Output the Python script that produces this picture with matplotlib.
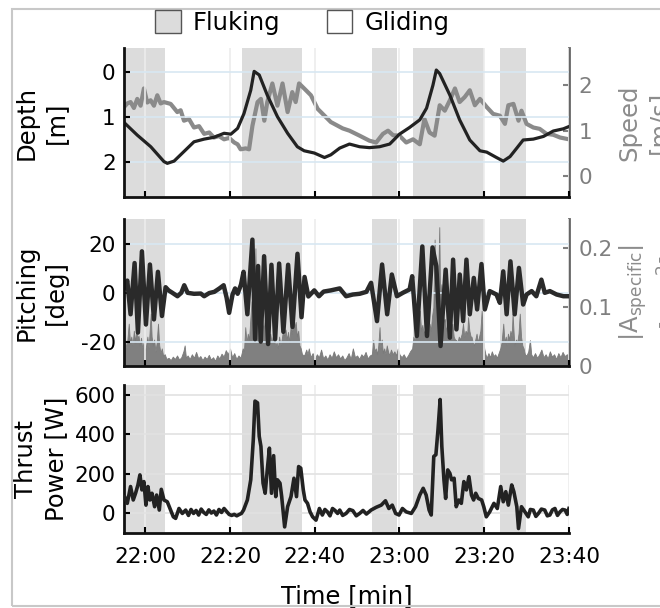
import numpy as np
import matplotlib
matplotlib.use('Agg')
import matplotlib.pyplot as plt
from matplotlib.patches import Patch, Rectangle

plt.rcParams['font.family'] = ['DejaVu Sans']
plt.rcParams['axes.unicode_minus'] = False

# Tiempo en minutos desde las 22:00
fluking = [(-5.0, 4.6), (22.9, 37.1), (53.6, 59.5), (63.2, 80.0), (83.8, 89.8)]
xticks = [0, 20, 40, 60, 80, 100]
xticklabels = ['22:00', '22:20', '22:40', '23:00', '23:20', '23:40']

depth_t = [-5.0, -1.9, 1.3, 4.4, 5.2, 6.8, 9.1, 11.5, 13.9, 16.2,
           18.6, 20.2, 21.8, 23.3, 24.9, 25.7, 26.9, 28.8, 31.2, 33.6,
           35.9, 37.5, 39.9, 42.3, 43.8, 45.9, 48.2, 50.6, 52.9, 55.3,
           57.7, 60.0, 62.4, 64.8, 66.4, 67.9, 68.7, 69.5, 71.9, 74.2,
           76.6, 79.0, 80.6, 82.9, 84.5, 86.1, 87.7, 89.2, 91.6, 94.0,
           96.3, 98.7, 100.0]
depth_m = [1.13, 1.41, 1.67, 2.0, 2.04, 1.99, 1.78, 1.56, 1.50, 1.46,
           1.37, 1.39, 1.26, 0.93, 0.41, -0.01, 0.07, 0.52, 1.0, 1.37,
           1.67, 1.76, 1.81, 1.91, 1.85, 1.70, 1.61, 1.67, 1.69, 1.67,
           1.61, 1.39, 1.24, 1.07, 0.81, 0.30, -0.04, 0.04, 0.52, 1.07,
           1.52, 1.76, 1.79, 1.91, 1.99, 1.89, 1.70, 1.52, 1.50, 1.44,
           1.32, 1.27, 1.22]

speed_t = [-5.0, -4.25, -3.47, -2.68, -1.89, -1.10, -0.32, 0.47, 1.26, 2.05,
           2.84, 3.63, 4.41, 5.99, 7.56, 8.35, 9.14, 10.3, 11.5, 12.7,
           13.9, 15.1, 16.2, 17.4, 18.6, 19.8, 21.0, 21.8, 22.5, 23.7,
           24.5, 25.3, 26.5, 27.3, 28.1, 28.8, 30.0, 31.2, 32.4, 33.6,
           34.7, 35.5, 36.3, 37.5, 39.1, 40.7, 42.3, 43.8, 45.4, 46.6,
           48.2, 50.6, 52.9, 54.5, 56.1, 57.3, 58.5, 60.0, 61.6, 63.2,
           64.8, 65.9, 67.1, 68.3, 69.5, 70.7, 71.9, 73.1, 74.2, 75.4,
           76.6, 77.8, 79.0, 80.6, 82.1, 83.7, 84.9, 85.7, 86.9, 88.1,
           88.8, 90.0, 91.6, 93.1, 94.7, 96.3, 97.9, 100.0]
speed_v = [1.52, 1.60, 1.63, 1.50, 1.70, 1.55, 1.93, 1.62, 1.67, 1.55,
           1.78, 1.60, 1.63, 1.59, 1.41, 1.45, 1.22, 1.26, 1.07, 1.10,
           0.93, 0.96, 0.85, 0.88, 0.81, 0.84, 0.74, 0.70, 0.59, 0.61,
           0.59, 1.11, 1.63, 1.70, 1.22, 1.63, 2.04, 1.55, 2.04, 1.41,
           1.85, 1.63, 2.04, 1.93, 1.78, 1.48, 1.33, 1.19, 1.11, 1.05,
           1.0, 0.89, 0.78, 0.74, 0.93, 1.0, 0.90, 0.89, 0.74, 0.81,
           0.70, 1.26, 0.96, 0.89, 1.56, 1.44, 1.67, 1.93, 1.63, 1.74,
           1.89, 1.56, 1.70, 1.52, 1.37, 1.33, 1.15, 1.56, 1.59, 1.22,
           1.44, 1.15, 1.07, 1.04, 0.93, 0.91, 0.85, 0.81]

pitch_t = [-5.0, -4.25, -3.47, -2.52, -1.73, -0.79, 0.16, 1.10, 2.05, 2.99,
           3.94, 4.80, 5.5, 6.4, 7.6, 8.5, 9.2, 10.0, 11.5, 13.1,
           13.9, 15.1, 16.3, 17.5, 18.5, 19.2, 19.8, 20.6, 21.2, 21.8,
           22.6, 23.2, 24.1, 25.29, 25.92, 26.63, 27.26, 28.05, 28.99, 29.78,
           30.65, 31.6, 32.6, 33.72, 34.75, 35.93, 36.88, 37.6, 38.5, 39.9,
           41.0, 42.1, 43.8, 45.9, 47.4, 49.0, 50.6, 52.2, 53.3, 54.7,
           55.9, 57.1, 58.2, 59.4, 60.8, 62.4, 63.0, 64.1, 65.4, 66.5,
           67.8, 68.7, 69.7, 70.9, 71.9, 72.66, 73.45, 74.24, 75.03, 75.81,
           76.6, 77.55, 78.33, 79.36, 80.15, 81.3, 82.9, 83.7, 84.5, 85.3,
           86.2, 87.2, 88.2, 89.2, 90.0, 91.2, 92.3, 93.5, 94.3, 95.5,
           97.1, 98.7, 100.0]
pitch_v = [2.0, 5.0, -8.8, 12.2, -16.3, 17.0, -13.0, 11.6, -10.9, 8.6,
           -9.5, 2.3, 1.0, 0.0, -1.4, 0.0, 3.1, 0.0, -0.4, -0.3,
           -1.4, -0.1, 0.4, 1.8, 3.1, -2.0, -8.2, -0.7, 1.8, -0.4,
           3.4, 8.6, -8.8, 21.8, -19.0, 11.0, -20.0, 15.0, -21.0, 11.5,
           -19.0, 12.0, -16.0, 11.5, -14.0, 16.0, -10.0, 6.5, -1.5, 1.0,
           -1.4, 0.5, 1.0, 1.8, -1.4, -0.7, -0.4, 0.4, 4.1, -11.6,
           11.6, -8.8, 7.5, -1.4, 0.0, 1.4, 6.8, -17.7, 19.0, -17.7,
           18.6, 10.9, -21.8, 9.5, -18.4, 13.6, -15.0, 7.5, -11.6, 13.6,
           -8.8, 6.1, -6.8, 11.8, -6.8, 0.7, -0.7, -4.1, 8.8, -8.8,
           12.9, -8.8, 10.2, -4.8, -0.7, 0.7, -1.4, 5.4, 0.0, 0.7,
           -0.7, -1.4, -1.4]

accel_t = [-5.0, -4.7, -4.4, -4.1, -3.9, -3.6, -3.3, -3.0, -2.7, -2.4, -2.1, -1.9, -1.6, -1.3, -1.0, -0.7, -0.4, -0.1,
           0.2, 0.5, 0.8, 1.1, 1.3, 1.5, 1.8, 2.1, 2.4, 2.7, 3.0, 3.3, 3.6, 3.9, 4.2, 4.6, 5.0,
           5.5, 6.0, 6.5, 7.0, 7.5, 8.0, 8.5, 9.0, 9.3, 9.6, 10.0, 10.5, 11.0, 11.5, 12.0, 12.5, 13.0, 13.5,
           14.0, 14.5, 15.0, 15.5, 16.0, 16.5, 17.0, 17.5, 18.0, 18.5, 19.0, 19.5, 20.0, 20.5, 21.0, 21.5, 22.0, 22.5,
           23.0, 23.3, 23.6, 23.9, 24.2, 24.5, 24.8, 25.1, 25.3, 25.6, 25.8, 26.0, 26.2, 26.5, 26.8, 27.1, 27.4,
           27.7, 28.0, 28.3, 28.6, 28.9, 29.2, 29.5, 29.8, 30.1, 30.4, 30.7, 31.0, 31.3, 31.6, 31.9, 32.2,
           32.5, 32.8, 33.1, 33.4, 33.7, 34.0, 34.3, 34.6, 34.9, 35.2, 35.5, 35.8, 36.1, 36.4, 36.7, 37.0,
           37.5, 38.0, 38.3, 38.6, 39.0, 39.5, 40.0, 40.5, 41.0, 41.5, 42.0, 42.5, 43.0, 43.5, 44.0, 44.5, 45.0,
           45.5, 46.0, 46.5, 47.0, 47.5, 48.0, 48.5, 49.0, 49.5, 50.0, 50.5, 51.0, 51.5, 52.0, 52.5, 53.0,
           53.5, 53.8, 54.1, 54.4, 54.7, 55.0, 55.3, 55.5, 55.8, 56.1, 56.4, 56.7, 57.0,
           57.3, 57.6, 58.0, 58.4, 58.8, 59.2, 59.6, 60.0, 60.5, 61.0, 61.5, 62.0, 62.5,
           63.0, 63.3, 63.6, 63.9, 64.2, 64.5, 64.8, 65.1, 65.4, 65.7, 66.0, 66.3, 66.6, 66.9, 67.1,
           67.4, 67.7, 68.0, 68.3, 68.5, 68.8, 69.1, 69.4, 69.6, 69.9, 70.2, 70.5, 70.7, 71.0, 71.3,
           71.5, 71.8, 72.1, 72.5, 72.8, 73.1, 73.4, 73.7, 74.0, 74.3, 74.7, 75.0, 75.3, 75.6, 76.0,
           76.2, 76.5, 76.8, 77.0, 77.3, 77.6, 77.9, 78.2, 78.5, 78.8, 79.1, 79.4, 79.7, 80.0, 80.3,
           80.6, 81.0, 81.4, 81.8, 82.2, 82.6, 83.0, 83.4,
           83.8, 84.1, 84.5, 84.8, 85.1, 85.3, 85.6, 85.9, 86.2, 86.5, 86.7, 87.0, 87.2,
           87.5, 87.8, 88.1, 88.4, 88.7, 89.0, 89.3, 89.6, 90.0, 90.4, 90.8, 91.1,
           91.5, 92.0, 92.5, 93.0, 93.5, 94.0, 94.5, 95.0, 95.5,
           96.0, 96.5, 97.0, 97.5, 98.0, 98.5, 99.0, 99.5, 100.0]
accel_v = [.020, .040, .030, .055, .072, .040, .050, .035, .060, .040, .066, .045, .052, .035, .048, .030, .040, .025,
           .035, .050, .030, .068, .089, .050, .035, .045, .025, .040, .072, .035, .022, .030, .018, .020, .012,
           .014, .010, .016, .012, .018, .011, .015, .025, .035, .014, .018, .012, .020, .014, .024, .013, .017, .010,
           .016, .012, .019, .011, .015, .009, .018, .013, .021, .016, .027, .020, .030, .015, .022, .012, .018, .014,
           .030, .025, .066, .040, .055, .045, .080, .110, .070, .128, .090, .200, .080, .070, .090, .060, .100,
           .070, .065, .085, .060, .070, .050, .055, .040, .050, .045, .035, .040, .030, .050, .035, .045,
           .060, .050, .062, .045, .058, .040, .066, .055, .083, .065, .075, .050, .060, .035, .030, .020,
           .018, .028, .020, .030, .015, .022, .012, .020, .015, .028, .013, .018, .011, .020, .014, .025, .015,
           .020, .013, .018, .010, .015, .022, .012, .030, .015, .018, .012, .020, .016, .024, .013, .018,
           .020, .044, .025, .030, .020, .035, .066, .030, .045, .022, .030, .020, .035,
           .025, .018, .028, .020, .025, .018, .030, .020, .015, .020, .013, .018, .025,
           .030, .050, .040, .060, .055, .075, .094, .060, .070, .055, .062, .050, .068, .055, .072,
           .060, .085, .100, .215, .120, .100, .130, .236, .110, .139, .090, .075, .080, .060, .070,
           .089, .060, .065, .072, .050, .045, .044, .040, .050, .045, .055, .072, .050, .060, .055,
           .083, .060, .050, .050, .040, .035, .045, .055, .040, .050, .060, .094, .060, .030, .020,
           .014, .022, .015, .025, .017, .020, .014, .022,
           .030, .040, .072, .040, .050, .035, .055, .045, .060, .050, .089, .050, .035,
           .045, .040, .055, .089, .050, .035, .030, .020, .018, .025, .044, .020,
           .015, .022, .014, .020, .028, .015, .020, .013, .025,
           .016, .020, .012, .022, .015, .024, .017, .020, .018]

power_t = [-4.88, -4.25, -3.47, -2.84, -2.29, -1.73, -1.26, -0.79, -0.32, 0.16,
           0.63, 1.10, 1.58, 2.21, 2.68, 3.31, 3.78, 4.41, 5.2, 5.83,
           6.62, 7.17, 7.96, 8.75, 9.54, 10.2, 10.8, 11.4, 12.0, 12.6,
           13.2, 13.8, 14.4, 15.0, 15.6, 16.2, 16.8, 17.4, 18.0, 18.6,
           19.2, 19.8, 20.4, 21.0, 21.6, 22.2, 22.7, 23.2, 24.1, 24.9,
           25.5, 25.9, 26.5, 26.9, 27.3, 27.8, 28.3, 28.8, 29.3, 29.8,
           30.3, 30.8, 31.2, 31.8, 32.2, 32.9, 33.6, 34.4, 35.1, 35.7,
           36.2, 36.7, 37.3, 37.7, 38.3, 38.9, 39.5, 40.3, 41.1, 41.8,
           42.4, 43.0, 43.6, 44.2, 44.8, 45.4, 45.9, 46.6, 47.4, 48.2,
           49.0, 49.8, 50.6, 51.4, 52.2, 53.3, 54.5, 55.7, 56.7, 57.5,
           58.3, 59.1, 59.9, 60.7, 61.6, 62.8, 63.8, 64.8, 65.6, 66.3,
           67.0, 67.5, 68.1, 68.6, 69.1, 69.6, 70.0, 70.5, 70.9, 71.4,
           71.9, 72.3, 72.9, 73.4, 74.0, 74.6, 75.2, 75.8, 76.4, 77.0,
           77.5, 78.0, 78.6, 79.4, 79.9, 80.5, 81.3, 82.3, 83.1, 83.9,
           84.5, 85.1, 85.7, 86.5, 87.0, 87.7, 88.1, 88.8, 89.6, 90.4,
           90.9, 91.6, 92.2, 92.8, 93.5, 94.3, 94.9, 95.5, 96.1, 96.7,
           97.3, 97.9, 98.5, 99.1, 99.6, 100.0]
power_v = [85, 51, 136, 68, 102, 144, 195, 119, 161, 42,
           136, 68, 102, 34, 93, 17, 122, 68, 59, 25,
           -17, -25, 25, 0, 17, -10, 20, 0, 15, -8,
           22, 5, -5, 18, 2, 12, -8, 20, 5, 25,
           10, -5, -10, -5, -12, -5, 0, 17, 68, 170,
           373, 568, 559, 390, 339, 153, 102, 220, 330, 102,
           292, 85, 170, 153, 85, -68, 34, 85, 178, 85,
           237, 229, 119, 68, 51, 8, -17, -34, 25, -8,
           20, 8, -12, 25, 15, 0, 17, -10, 0, 20,
           14, -12, 0, 15, -3, 17, 31, 42, 64, 25,
           42, 0, -8, 25, 8, 0, 34, 93, 127, 93,
           17, -8, 288, 297, 424, 576, 339, 170, 76, 220,
           203, 170, 178, 34, 68, 51, 161, 119, 186, 93,
           68, 102, 76, 68, 34, -17, 8, 51, 25, 136,
           59, 110, 42, 144, 110, 34, -76, 34, 8, -17,
           20, 17, -15, 0, 22, 17, -12, -8, 18, 25,
           -10, 8, 20, 17, -5, 25]

shade = '#dcdcdc'
twin_gray = '#7f7f7f'
fs_tick = 15.5
fs_label = 17.5

fig = plt.figure(figsize=(6.6, 6.08), dpi=100)
ax1 = fig.add_axes([0.188, 0.676, 0.674, 0.245])
ax2 = fig.add_axes([0.188, 0.398, 0.674, 0.242])
ax3 = fig.add_axes([0.188, 0.123, 0.674, 0.244])
tw1 = ax1.twinx()
tw2 = ax2.twinx()


def style_main(ax, grid_color):
    ax.set_xlim(-5, 100)
    ax.set_xticks(xticks)
    for s in ['top', 'right']:
        ax.spines[s].set_visible(False)
    for s in ['left', 'bottom']:
        ax.spines[s].set_linewidth(2.0)
        ax.spines[s].set_color('#111111')
    ax.tick_params(direction='in', length=4, width=1.5, labelsize=fs_tick, pad=6)
    ax.tick_params(axis='x', pad=10)
    ax.grid(axis='x', color='#ececec', lw=1.2)
    ax.grid(axis='y', color=grid_color, lw=1.2)


def style_twin(tw):
    tw.set_xlim(-5, 100)
    for s in ['top', 'left', 'bottom']:
        tw.spines[s].set_visible(False)
    tw.spines['right'].set_linewidth(2.0)
    tw.spines['right'].set_color('#666666')
    tw.tick_params(direction='in', length=4, width=1.5, labelsize=fs_tick, pad=7,
                   colors=twin_gray)
    tw.yaxis.set_label_coords(1.108, 0.5)


# Las lineas del eje principal van por encima del eje gemelo
for ax, tw in [(ax1, tw1), (ax2, tw2)]:
    ax.set_zorder(tw.get_zorder() + 1)
    ax.patch.set_visible(False)
    for a, b in fluking:
        tw.axvspan(a, b, color=shade, lw=0, zorder=0)
for a, b in fluking:
    ax3.axvspan(a, b, color=shade, lw=0, zorder=0.2)
ax3.set_axisbelow(True)

# Panel 1: profundidad y velocidad
tw1.plot(speed_t, speed_v, color='#8a8a8a', lw=3.0)
ax1.plot(depth_t, depth_m, color='#222222', lw=2.3)
ax1.set_ylim(2.79, -0.53)
ax1.set_yticks([0, 1, 2])
tw1.set_ylim(-0.46, 2.82)
tw1.set_yticks([0, 1, 2])
ax1.set_ylabel('Depth\n[m]', fontsize=fs_label, linespacing=1.3)
tw1.set_ylabel('Speed\n[m/s]', fontsize=fs_label, color='#8c8c8c', linespacing=1.3)

# Panel 2: cabeceo y aceleracion especifica
tw2.fill_between(accel_t, 0, accel_v, color='#808080', lw=0.6, edgecolor='#7a7a7a')
ax2.plot(pitch_t, pitch_v, color='#2a2a2a', lw=3.2, solid_joinstyle='round')
ax2.set_ylim(-30, 30.3)
ax2.set_yticks([-20, 0, 20])
tw2.set_ylim(0, 0.25)
tw2.set_yticks([0, 0.1, 0.2])
tw2.set_yticklabels(['0', '0.1', '0.2'])
ax2.set_ylabel('Pitching\n[deg]', fontsize=fs_label, linespacing=1.3)
tw2.set_ylabel('|A$_{\\rm specific}$|\n[m/s$^2$]', fontsize=fs_label, color='#8c8c8c',
               linespacing=1.3)

# Panel 3: potencia de empuje
ax3.plot(power_t, power_v, color='#222222', lw=2.6, zorder=3)
ax3.set_ylim(-100, 650)
ax3.set_yticks([0, 200, 400, 600])
ax3.set_ylabel('Thrust\nPower [W]', fontsize=fs_label, linespacing=1.3)
ax3.set_xlabel('Time [min]', fontsize=fs_label)
ax3.xaxis.set_label_coords(0.5, -0.34)

style_main(ax1, '#d8e7f2')
style_main(ax2, '#d8e7f2')
style_main(ax3, '#e2e2e2')
style_twin(tw1)
style_twin(tw2)
ax1.set_xticklabels([])
ax2.set_xticklabels([])
ax3.set_xticklabels(xticklabels)

for ax in [ax1, ax2, ax3]:
    ax.yaxis.set_label_coords(-0.126, 0.5)

handles = [Patch(facecolor=shade, edgecolor='#555555', lw=1.0),
           Patch(facecolor='white', edgecolor='#555555', lw=1.0)]
fig.legend(handles, ['Fluking', 'Gliding'], loc='center', bbox_to_anchor=(0.458, 0.963),
           ncol=2, frameon=False, fontsize=fs_label, handlelength=1.05, handleheight=1.05,
           columnspacing=1.9, handletextpad=0.5)

# Marco gris de la figura
fig.patches.append(Rectangle((0.018, 0.004), 1.2, 0.981, transform=fig.transFigure,
                             fill=False, edgecolor='#c8c8c8', lw=1.5))

fig.savefig('out.png', dpi=100)
